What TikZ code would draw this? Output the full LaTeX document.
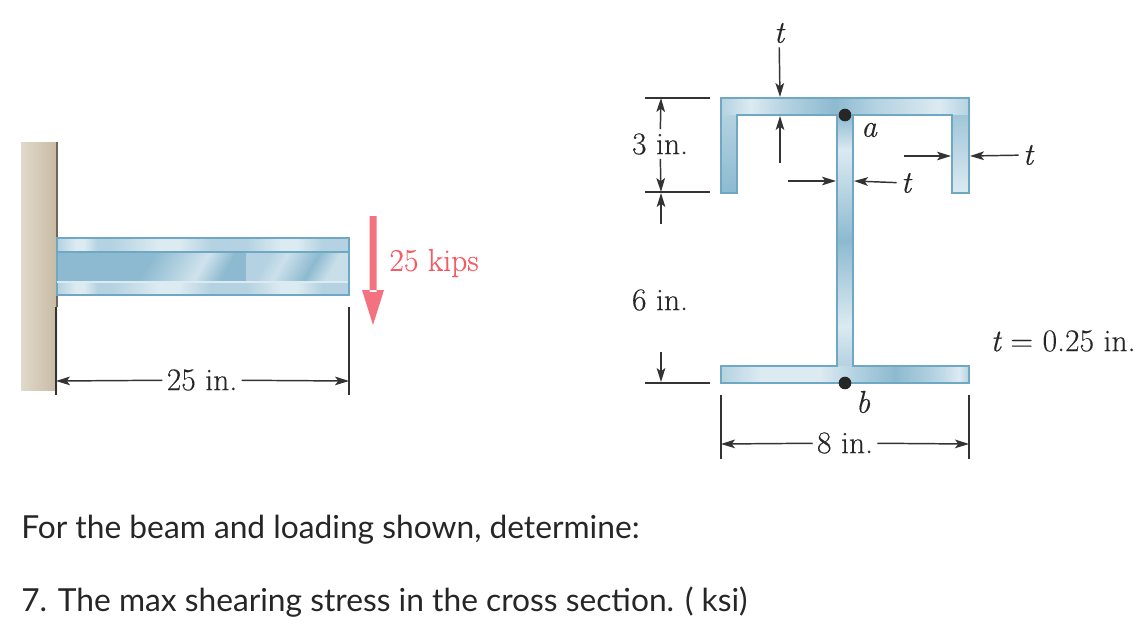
\documentclass[tikz,border=0pt]{standalone}
\usepackage{fontspec}
\usetikzlibrary{arrows.meta}
\newfontfamily\promptfont{Lato}
\newfontfamily\dimfont{Latin Modern Roman}[FakeBold=0.3]
\definecolor{steeledge}{HTML}{6FA8C3}
\definecolor{steelpale}{HTML}{DCEAF1}
\definecolor{steelmid}{HTML}{B4D2E1}
\definecolor{steeldark}{HTML}{8DBAD0}
\definecolor{wallpale}{HTML}{E0D9CB}
\definecolor{walldark}{HTML}{C8BBA4}
\definecolor{loadred}{HTML}{F4727F}
\definecolor{dimgray}{HTML}{333333}
\pgfdeclarehorizontalshading{topbands}{100bp}{color(0bp)=(steelmid); color(25bp)=(steelmid); color(31bp)=(steelpale); color(38bp)=(steelmid); color(48bp)=(steeldark); color(56bp)=(steelmid); color(69bp)=(steelpale); color(75bp)=(steelmid); color(100bp)=(steelmid)}
\pgfdeclarehorizontalshading{flangebands}{100bp}{color(0bp)=(steelmid); color(25bp)=(steelmid); color(33bp)=(steelpale); color(45bp)=(steelpale); color(52bp)=(steelmid); color(60bp)=(steeldark); color(68bp)=(steelmid); color(73bp)=(steelpale); color(75bp)=(steelmid); color(100bp)=(steelmid)}
\pgfdeclarehorizontalshading{beamwasha}{100bp}{color(0bp)=(steeldark); color(35bp)=(steeldark); color(50bp)=(steelmid); color(60bp)=(steelpale!70!steelmid); color(72bp)=(steeldark); color(100bp)=(steeldark)}
\pgfdeclarehorizontalshading{beamwashb}{100bp}{color(0bp)=(steelmid); color(30bp)=(steelmid); color(40bp)=(steelpale!60!steelmid); color(58bp)=(steeldark); color(70bp)=(steelpale!50!steelmid); color(100bp)=(steelpale!50!steelmid)}
\pgfdeclarehorizontalshading{stripbands}{100bp}{color(0bp)=(steelmid); color(25bp)=(steelmid); color(42bp)=(steelpale); color(50bp)=(steelpale); color(62bp)=(steelmid); color(75bp)=(steelmid); color(100bp)=(steelmid)}
\pgfdeclareverticalshading{webbands}{100bp}{color(0bp)=(steelmid); color(25bp)=(steelmid); color(33bp)=(steelpale); color(50bp)=(steeldark); color(68bp)=(steelpale); color(75bp)=(steeldark); color(100bp)=(steeldark)}
\tikzset{
>={Stealth[length=10.5pt, width=6.5pt, inset=2.5pt]}, % arrow heads of the dimension lines
dim/.style={draw=dimgray, line width=1.1pt, ->}, % dimension arrows
ext/.style={draw=dimgray, line width=1.1pt}, % extension lines
lbl/.style={font=\dimfont\fontsize{23.7}{26}\selectfont, text=black!85, inner sep=3pt},
prompt/.style={font=\promptfont\fontsize{23.8}{27}\selectfont, text=black!85, anchor=base west, inner sep=0pt},
pointdot/.style={circle, fill=black!85, inner sep=0pt, minimum size=9.5pt},
}

\begin{document}
\begin{tikzpicture}[x=0.75pt, y=-0.75pt]
    \useasboundingbox (0,0) rectangle (1139,640);
    % wall and beam
    \shade[left color=wallpale, right color=walldark] (21,142) rectangle (57,390);
    \draw[draw=black!45!walldark, line width=1.1pt] (57,142) -- (57,307);
    \shade[shading=stripbands] (57,238) rectangle (112,252) (57,282) rectangle (112,295);
    \shade[shading=stripbands] (112,238) rectangle (246,252) (112,282) rectangle (246,295);
    \shade[shading=stripbands] (246,238) rectangle (349,252) (246,282) rectangle (349,295);
    \fill[steeldark] (57,252) rectangle (112,282);
    \shade[shading=beamwasha, shading angle=-30] (112,252) rectangle (246,282);
    \shade[shading=beamwashb, shading angle=-30] (246,252) rectangle (349,282);
    \draw[steeledge, line width=1pt] (57,238) rectangle (349,295);
    \draw[steeledge, line width=1.3pt] (57,252) -- (349,252);
    \draw[steelpale, line width=1pt] (57,282) -- (348,282);
    % load
    \fill[loadred] (369.5,216) rectangle (376.5,292) (362,290) -- (384,290) -- (373,325) -- cycle;
    \node[lbl, text=loadred!80!red] (load) at (434,263) {25 kips};
    % span of the beam
    \coordinate (s1a) at (56,307);
    \coordinate (s1b) at (56,395);
    \coordinate (s2a) at (349,307);
    \coordinate (s2b) at (349,395);
    \coordinate (s1) at (56,381);
    \coordinate (s2) at (349,381);
    \node[lbl] (span) at (202,380) {25 in.};
    \draw[ext] (s1a) -- (s1b) (s2a) -- (s2b);
    \draw[dim] (span) -- (s1);
    \draw[dim] (span) -- (s2);
    % cross section
    \shade[shading=topbands] (721,98) rectangle (969,115);
    \shade[top color=steelmid, bottom color=steeldark] (721,115) rectangle (737,193);
    \shade[top color=steelmid!50!steeldark, bottom color=steelpale] (952,115) rectangle (969,193);
    \shade[shading=webbands] (837,115) rectangle (853,366);
    \shade[shading=flangebands] (721,366) rectangle (969,383);
    \draw[steeledge, line width=1.2pt] (721,98) -- (969,98) -- (969,193) -- (952,193) -- (952,115) -- (853,115) -- (853,366) -- (969,366) -- (969,383) -- (721,383) -- (721,366) -- (837,366) -- (837,115) -- (737,115) -- (737,193) -- (721,193) -- cycle;
    \node[pointdot] (pa) at (845,115) {};
    \node[pointdot] (pb) at (845,383) {};
    \node[lbl] (la) at (869,130) {\itshape a};
    \node[lbl] (lb) at (863,402) {\itshape b};
    % heights
    \coordinate (h1a) at (645,98);
    \coordinate (h1b) at (710,98);
    \coordinate (h2a) at (645,192);
    \coordinate (h2b) at (710,192);
    \coordinate (h3a) at (645,383);
    \coordinate (h3b) at (710,383);
    \coordinate (h1) at (661,98);
    \coordinate (h2) at (661,192);
    \coordinate (h3) at (661,193);
    \coordinate (h4) at (661,224);
    \coordinate (h5) at (661,352);
    \coordinate (h6) at (661,382);
    \draw[ext] (h1a) -- (h1b) (h2a) -- (h2b) (h3a) -- (h3b);
    \node[lbl] (three) at (660,144) {3 in.};
    \node[lbl] (six) at (660,300) {6 in.};
    \draw[dim] (three) -- (h1);
    \draw[dim] (three) -- (h2);
    \draw[dim] (h4) -- (h3);
    \draw[dim] (h5) -- (h6);
    % width of the flange
    \coordinate (w1a) at (721,395);
    \coordinate (w1b) at (721,459);
    \coordinate (w2a) at (969,395);
    \coordinate (w2b) at (969,459);
    \coordinate (w1) at (721,444);
    \coordinate (w2) at (969,444);
    \node[lbl] (eight) at (845,443) {8 in.};
    \draw[ext] (w1a) -- (w1b) (w2a) -- (w2b);
    \draw[dim] (eight) -- (w1);
    \draw[dim] (eight) -- (w2);
    % thickness
    \node[lbl] (t1) at (779,33) {\itshape t};
    \node[lbl] (t2) at (906,183) {\itshape t};
    \node[lbl] (t3) at (1028,155) {\itshape t};
    \coordinate (f1) at (780,97);
    \coordinate (f2) at (780,163);
    \coordinate (f3) at (780,116);
    \coordinate (f4) at (788,181);
    \coordinate (f5) at (836,181);
    \coordinate (f6) at (854,181);
    \coordinate (f7) at (904,156);
    \coordinate (f8) at (951,156);
    \coordinate (f9) at (970,156);
    \draw[dim] (t1) -- (f1);
    \draw[dim] (f2) -- (f3);
    \draw[dim] (f4) -- (f5);
    \draw[dim] (t2) -- (f6);
    \draw[dim] (f7) -- (f8);
    \draw[dim] (t3) -- (f9);
    \node[lbl] (tval) at (1063,341) {{\itshape t} = 0.25 in.};
    % question text
    \node[prompt] (q1) at (21,538) {For the beam and loading shown, determine:};
    \node[prompt] (q2) at (21,611) {7. The max shearing stress in the cross section. ( ksi)};
\end{tikzpicture}
\end{document}
